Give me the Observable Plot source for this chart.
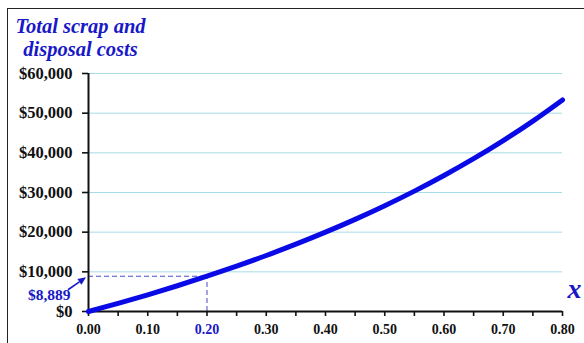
<!DOCTYPE html>
<html>
<head>
<meta charset="utf-8">
<script src="https://cdn.jsdelivr.net/npm/d3@7"></script>
<script src="https://cdn.jsdelivr.net/npm/@observablehq/plot@0.6"></script>
<style>
  html, body { margin: 0; padding: 0; background: #fff; }
  #wrap { position: relative; width: 584px; height: 343px; overflow: hidden; }
  #border { position: absolute; left: 7px; top: 8px; right: -4px; bottom: -4px;
            border-top: 1.5px solid #222; border-left: 1.5px solid #222; pointer-events: none; }
</style>
</head>
<body>
<div id="wrap"><div id="border"></div></div>
<script>
// Scrap fraction x and the total scrap and disposal cost at each step
const fractions = [0, 0.05, 0.10, 0.15, 0.20, 0.25, 0.30, 0.35, 0.40, 0.45, 0.50, 0.55, 0.60, 0.65, 0.70, 0.75, 0.80];
const costs = [0, 2050, 4210, 6490, 8889, 11430, 14120, 16970, 20000, 23230, 26670, 30350, 34290, 38520, 43080, 48000, 53330];

// Axis ticks
const yTicks = [0, 10000, 20000, 30000, 40000, 50000, 60000];
const xTicks = [0, 0.05, 0.10, 0.15, 0.20, 0.25, 0.30, 0.35, 0.40, 0.45, 0.50, 0.55, 0.60, 0.65, 0.70, 0.75, 0.80];
const xLabels = [0, 0.10, 0.20, 0.30, 0.40, 0.50, 0.60, 0.70, 0.80];

// Highlighted reading
const markX = 0.20;
const markY = 8889;

const blue = "#0a0ae6";
const textBlue = "#1818c8";
const grid = "#a8dbe8";
const serif = "'Liberation Serif', 'Times New Roman', serif";

const series = fractions.map((x, i) => ({x, cost: costs[i]}));

// Arrow from the value label to the y axis, placed with the plot's scales
function valueArrow(index, scales) {
  const px = scales.x(0), py = scales.y(markY);
  const x1 = px - 20, y1 = py + 14, x2 = px - 2, y2 = py + 1.5;
  const ang = Math.atan2(y2 - y1, x2 - x1), L = 8, W = 3.5;
  const bx = x2 - L * Math.cos(ang), by = y2 - L * Math.sin(ang);
  const g = d3.create("svg:g");
  g.append("line").attr("x1", x1).attr("y1", y1).attr("x2", bx).attr("y2", by)
    .attr("stroke", textBlue).attr("stroke-width", 1.6);
  g.append("path")
    .attr("d", `M${x2},${y2}L${bx + W * Math.sin(ang)},${by - W * Math.cos(ang)}L${bx - W * Math.sin(ang)},${by + W * Math.cos(ang)}Z`)
    .attr("fill", textBlue);
  return g.node();
}

const chart = Plot.plot({
  width: 584,
  height: 343,
  marginTop: 73,
  marginRight: 22,
  marginBottom: 32,
  marginLeft: 88,
  style: {fontFamily: serif, background: "transparent", overflow: "visible"},
  x: {domain: [0, 0.8], label: null},
  y: {domain: [0, 60000], label: null},
  marks: [
    // horizontal gridlines
    Plot.ruleY(yTicks.filter(d => d > 0), {stroke: grid, strokeWidth: 1}),
    // dashed guides to the highlighted reading
    Plot.ruleY([markY], {x1: 0, x2: markX, stroke: "#4848cc", strokeWidth: 1, strokeDasharray: "5,3"}),
    Plot.ruleX([markX], {y1: 0, y2: markY, stroke: "#4848cc", strokeWidth: 1, strokeDasharray: "5,3"}),
    // axes
    Plot.axisY({ticks: yTicks, tickFormat: d3.format("$,"), tickSize: 6, tickPadding: 10, label: null,
      fontSize: 16.5, fontWeight: "bold", fill: "#111", stroke: "#111", strokeWidth: 1.6}),
    Plot.axisX({ticks: xTicks, tickFormat: () => "", tickSize: 5, label: null, stroke: "#111", strokeWidth: 1.6}),
    Plot.ruleX([0], {stroke: "#111", strokeWidth: 2}),
    Plot.ruleY([0], {stroke: "#111", strokeWidth: 2}),
    // x tick labels
    Plot.text(xLabels.filter(d => d !== markX), {x: d => d, text: d => d.toFixed(2), frameAnchor: "bottom",
      dy: 22, fontSize: 14, fontWeight: "bold", fill: "#111"}),
    Plot.text([markX], {x: d => d, text: d => d.toFixed(2), frameAnchor: "bottom",
      dy: 22, fontSize: 14, fontWeight: "bold", fill: textBlue}),
    // cost curve
    Plot.line(series, {x: "x", y: "cost", stroke: blue, strokeWidth: 5, strokeLinecap: "round", strokeLinejoin: "round", curve: "catmull-rom"}),
    // value label and arrow
    Plot.text([markY], {x: () => 0, y: d => d, text: d => d3.format("$,")(d), textAnchor: "end",
      dx: -18, dy: 18.5, fontSize: 15.5, fontWeight: "bold", fill: textBlue}),
    valueArrow,
    // title
    Plot.text(["Total scrap and\ndisposal costs"], {frameAnchor: "top-left", textAnchor: "middle", lineAnchor: "top",
      dx: -8, dy: -57, fontSize: 20.5, fontWeight: "bold", fontStyle: "italic", lineHeight: 1.12, fill: textBlue}),
    // x variable label
    Plot.text(["x"], {frameAnchor: "bottom-right", textAnchor: "start", dx: 5, dy: -14,
      fontSize: 28, fontWeight: "bold", fontStyle: "italic", fill: textBlue})
  ]
});

document.getElementById("wrap").prepend(chart);
</script>
</body>
</html>
